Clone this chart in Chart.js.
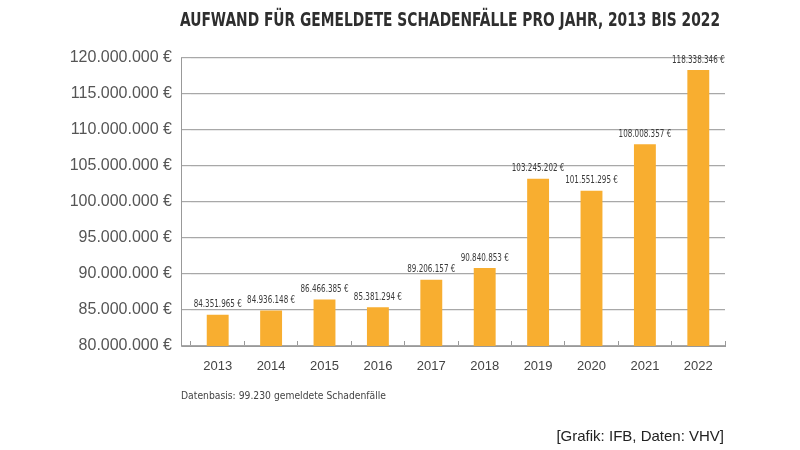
<!DOCTYPE html>
<html>
<head>
<meta charset="utf-8">
<script src="https://cdn.jsdelivr.net/npm/chart.js@4/dist/chart.umd.min.js"></script>
<style>
html,body{margin:0;padding:0;background:#fff;}
#wrap{width:800px;height:450px;position:relative;}
</style>
</head>
<body>
<div id="wrap"><canvas id="c" width="800" height="450"></canvas></div>
<script>
const years = ["2013","2014","2015","2016","2017","2018","2019","2020","2021","2022"];
const costs = [84351965, 84936148, 86466385, 85381294, 89206157, 90840853, 103245202, 101551295, 108008357, 118338346];
const yTicks = [80000000, 85000000, 90000000, 95000000, 100000000, 105000000, 110000000, 115000000, 120000000];
const titleText = "AUFWAND FÜR GEMELDETE SCHADENFÄLLE PRO JAHR, 2013 BIS 2022";
const noteText = "Datenbasis: 99.230 gemeldete Schadenfälle";
const sourceText = "[Grafik: IFB, Daten: VHV]";

const NARROW = '"Liberation Sans Narrow", "DejaVu Sans Condensed", "Arial Narrow", sans-serif';
const deFmt = v => String(Math.round(v)).replace(/\B(?=(\d{3})+(?!\d))/g, '.');
const AXIS_GAP = 10; // gap between y-axis line and first category

function squeezed(ctx, text, x, y, sx, align) {
  ctx.save();
  ctx.translate(x, y);
  ctx.scale(sx, 1);
  ctx.textAlign = align;
  ctx.fillText(text, 0, 0);
  ctx.restore();
}

const extras = {
  id: 'extras',
  beforeDatasetsDraw(chart) {
    const ctx = chart.ctx, a = chart.chartArea;
    ctx.save();
    ctx.strokeStyle = '#999';
    ctx.lineWidth = 1;
    ctx.beginPath();
    ctx.moveTo(a.left - AXIS_GAP + 0.5, a.top);
    ctx.lineTo(a.left - AXIS_GAP + 0.5, a.bottom + 0.5);
    ctx.lineTo(a.left, a.bottom + 0.5);
    ctx.stroke();
    ctx.restore();
  },
  afterDatasetsDraw(chart) {
    const ctx = chart.ctx;
    const meta = chart.getDatasetMeta(0);
    ctx.save();
    ctx.fillStyle = '#3a3a3a';
    ctx.font = '10px ' + NARROW;
    ctx.textBaseline = 'bottom';
    meta.data.forEach((bar, i) => {
      squeezed(ctx, deFmt(costs[i]) + ' €', bar.x, bar.y - 5, 0.8, 'center');
    });
    ctx.restore();
  },
  afterDraw(chart) {
    const ctx = chart.ctx;
    ctx.save();
    ctx.fillStyle = '#2e2e2e';
    ctx.font = 'bold 19px ' + NARROW;
    ctx.textBaseline = 'middle';
    let w = ctx.measureText(titleText).width;
    squeezed(ctx, titleText, 180, 21, Math.min(1, 540 / w), 'left');
    ctx.fillStyle = '#444';
    ctx.font = '11px ' + NARROW;
    w = ctx.measureText(noteText).width;
    squeezed(ctx, noteText, 181, 396, Math.min(1, 205 / w), 'left');
    ctx.fillStyle = '#222';
    ctx.font = '15px "Liberation Sans", Arial, sans-serif';
    ctx.textAlign = 'right';
    ctx.fillText(sourceText, 724, 437);
    ctx.restore();
  }
};

new Chart(document.getElementById('c'), {
  type: 'bar',
  data: {
    labels: years,
    datasets: [{
      data: costs,
      backgroundColor: '#F8AE30',
      borderWidth: 0,
      barPercentage: 0.41,
      categoryPercentage: 1.0
    }]
  },
  options: {
    responsive: false,
    animation: false,
    devicePixelRatio: 1,
    layout: { padding: { top: 58, right: 75, bottom: 0, left: 0 } },
    plugins: { legend: { display: false }, tooltip: { enabled: false }, title: { display: false } },
    scales: {
      x: {
        afterFit(scale) { scale.height = 104; },
        grid: { offset: true, drawOnChartArea: false, color: '#999', tickLength: -5, lineWidth: 1 },
        border: { color: '#999', width: 1 },
        ticks: { color: '#444', font: { size: 13, family: '"Liberation Sans", Arial, sans-serif' }, padding: 18 }
      },
      y: {
        min: 80000000,
        max: 120000000,
        afterFit(scale) { scale.width = 181 + AXIS_GAP; },
        afterBuildTicks(scale) { scale.ticks = yTicks.map(v => ({ value: v })); },
        grid: { color: '#a8a8a8', lineWidth: 1.2, drawTicks: true, tickLength: AXIS_GAP },
        border: { display: false },
        ticks: {
          color: '#555',
          font: { size: 16, family: '"Liberation Sans", Arial, sans-serif' },
          padding: 9,
          callback: v => deFmt(v) + ' €'
        }
      }
    }
  },
  plugins: [extras]
});
</script>
</body>
</html>
